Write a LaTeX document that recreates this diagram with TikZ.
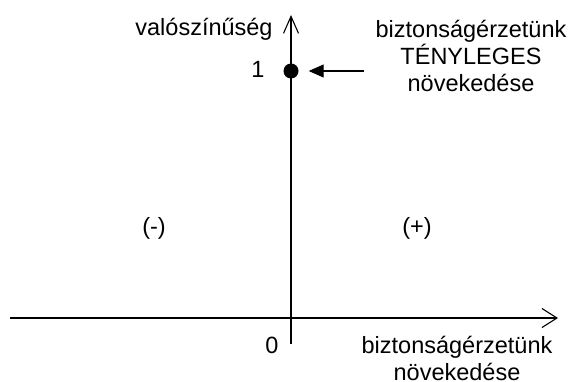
\documentclass[tikz,border=0pt]{standalone}
\usepackage{fontspec}
\setmainfont{Liberation Sans}
\usetikzlibrary{arrows.meta}
\begin{document}
\begin{tikzpicture}[x=1pt,y=-1pt,
  axis/.style={line width=1.2pt, -{Straight Barb[length=15pt,width=19pt,line width=1.1pt]}},
  lbl/.style={font=\fontsize{23.5}{27}\selectfont, inner sep=0pt, anchor=base, align=center},
  pointer/.style={line width=1.2pt, -{Triangle[length=15pt,width=13pt]}, shorten >=10pt}]
  \useasboundingbox (0,0) rectangle (575,382);
  % axes
  \coordinate (xstart) at (10,318);
  \coordinate (xend) at (558,318);
  \coordinate (ybot) at (291,344);
  \coordinate (ytop) at (291,15);
  \draw[axis] (xstart) -- (xend);
  \draw[axis, -{Straight Barb[length=17pt,width=15pt,line width=1.1pt]}] (ybot) -- (ytop);
  % point at probability 1
  \node[circle, fill, inner sep=0pt, minimum size=15pt] (pt) at (291,71) {};
  \coordinate (ptr) at (364,71);
  \draw[pointer] (ptr) -- (pt);
  % labels (base anchor = baseline of the last line)
  \node[lbl] (ylab) at (204,36) {valószínűség};
  \node[lbl] (one) at (258,78) {1};
  \node[lbl] (zero) at (272,353) {0};
  \node[lbl] (neg) at (154,234) {(-)};
  \node[lbl] (pos) at (417,234) {(+)};
  \node[lbl] (actual) at (471,92) {biztonságérzetünk\\TÉNYLEGES\\növekedése};
  \node[lbl] (xlab) at (457,380) {biztonságérzetünk\\növekedése};
\end{tikzpicture}
\end{document}
